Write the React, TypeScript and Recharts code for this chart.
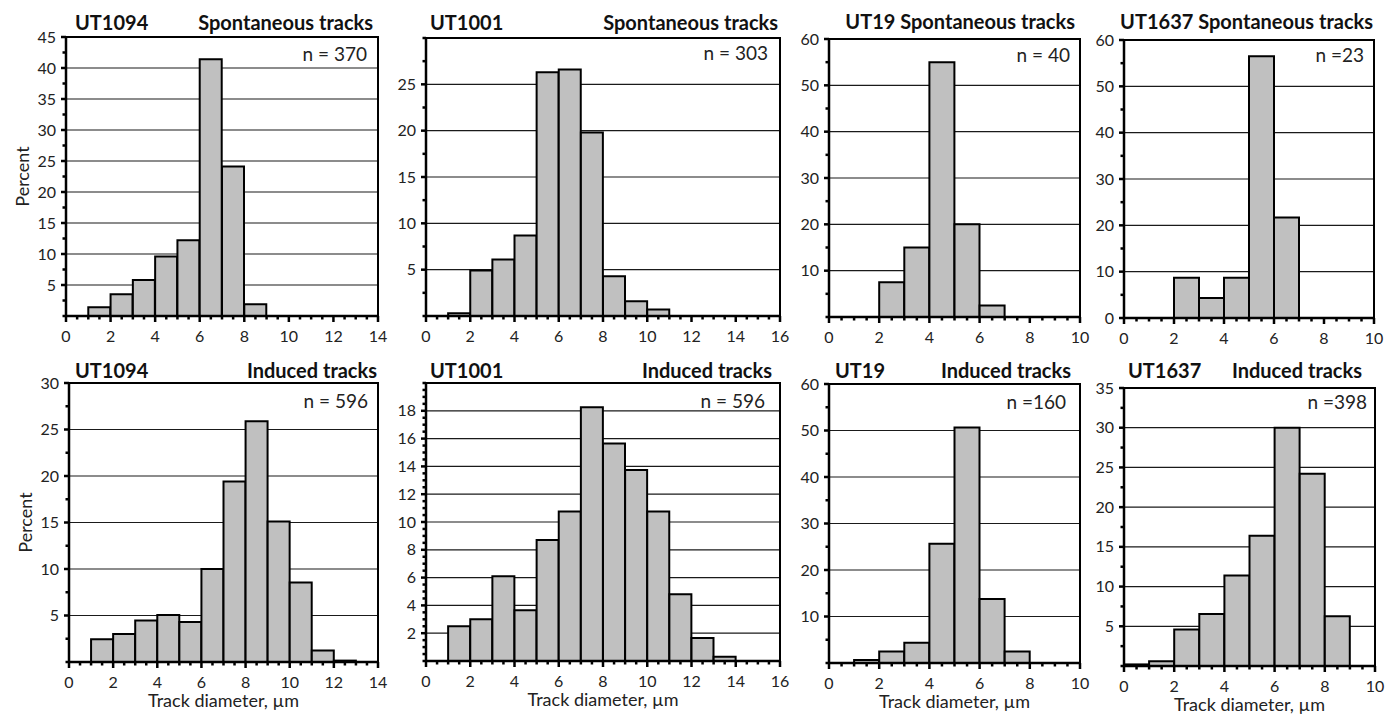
import React from 'react';
import { BarChart, Bar, XAxis, YAxis, CartesianGrid, ReferenceArea } from 'recharts';

const FONT = 'Lato, "Open Sans", "DejaVu Sans", sans-serif';

// Percent of tracks in 1-µm diameter bins, starting at 0-1 µm
const ut1094Spontaneous = [0, 1.4, 3.5, 5.8, 9.6, 12.2, 41.4, 24.1, 1.9, 0, 0, 0, 0, 0];
const ut1001Spontaneous = [0, 0.3, 4.9, 6.1, 8.7, 26.3, 26.6, 19.8, 4.3, 1.6, 0.7, 0, 0, 0, 0, 0];
const ut19Spontaneous = [0, 0, 7.5, 15, 55, 20, 2.5, 0, 0, 0];
const ut1637Spontaneous = [0, 0, 8.7, 4.3, 8.7, 56.5, 21.7, 0, 0, 0];
const ut1094Induced = [0, 2.45, 3.0, 4.45, 5.05, 4.3, 10.0, 19.4, 25.9, 15.1, 8.55, 1.25, 0.15, 0];
const ut1001Induced = [0, 2.5, 3.0, 6.1, 3.65, 8.7, 10.75, 18.25, 15.65, 13.75, 10.75, 4.8, 1.65, 0.3, 0, 0];
const ut19Induced = [0, 0.625, 2.5, 4.375, 25.625, 50.625, 13.75, 2.5, 0, 0];
const ut1637Induced = [0.2, 0.6, 4.6, 6.55, 11.4, 16.4, 30.0, 24.2, 6.25, 0];

const xLabels14 = [0, 2, 4, 6, 8, 10, 12, 14];
const xLabels16 = [0, 2, 4, 6, 8, 10, 12, 14, 16];
const xLabels10 = [0, 2, 4, 6, 8, 10];

const yLabels45 = [5, 10, 15, 20, 25, 30, 35, 40, 45];
const yLabels25 = [5, 10, 15, 20, 25];
const yLabels60 = [10, 20, 30, 40, 50, 60];
const yLabels60z = [0, 10, 20, 30, 40, 50, 60];
const yLabels30 = [5, 10, 15, 20, 25, 30];
const yLabels18 = [2, 4, 6, 8, 10, 12, 14, 16, 18];
const yLabels35 = [5, 10, 15, 20, 25, 30, 35];

const sampleNames = ['UT1094', 'UT1001', 'UT19', 'UT1637'];
const spontaneousCounts = ['n = 370', 'n = 303', 'n = 40', 'n =23'];
const inducedCounts = ['n = 596', 'n = 596', 'n =160', 'n =398'];
const spontaneousTitle = 'Spontaneous tracks';
const inducedTitle = 'Induced tracks';
const yTitle = 'Percent';
const xTitle = 'Track diameter, µm';

type Box = { l: number; t: number; r: number; b: number };
type PanelCfg = {
  values: number[];
  xMax: number;
  yMax: number;
  xLabels: number[];
  yLabels: number[];
  yMinor: number;
  box: Box;
  titleLeft: string;
  titleRight: string;
  titleLeftX: number;
  titleRightX: number;
  titleY: number;
  n: string;
  nX: number;
  nY: number;
  percent?: boolean;
  xTitle?: boolean;
};

const panels: PanelCfg[] = [
  { values: ut1094Spontaneous, xMax: 14, yMax: 45, xLabels: xLabels14, yLabels: yLabels45, yMinor: 2.5,
    box: { l: 66, t: 37, r: 378, b: 316 }, titleLeft: sampleNames[0], titleRight: spontaneousTitle,
    titleLeftX: 75, titleRightX: 373, titleY: 30, n: spontaneousCounts[0], nX: 367, nY: 60.5, percent: true },
  { values: ut1001Spontaneous, xMax: 16, yMax: 30, xLabels: xLabels16, yLabels: yLabels25, yMinor: 2.5,
    box: { l: 426, t: 38, r: 780, b: 316 }, titleLeft: sampleNames[1], titleRight: spontaneousTitle,
    titleLeftX: 430, titleRightX: 778, titleY: 30, n: spontaneousCounts[1], nX: 768, nY: 60 },
  { values: ut19Spontaneous, xMax: 10, yMax: 60, xLabels: xLabels10, yLabels: yLabels60, yMinor: 5,
    box: { l: 829, t: 39, r: 1080, b: 317 }, titleLeft: '', titleRight: sampleNames[2] + ' ' + spontaneousTitle,
    titleLeftX: 835, titleRightX: 1075, titleY: 29, n: spontaneousCounts[2], nX: 1070, nY: 61.5 },
  { values: ut1637Spontaneous, xMax: 10, yMax: 60, xLabels: xLabels10, yLabels: yLabels60z, yMinor: 5,
    box: { l: 1124, t: 40, r: 1374, b: 318 }, titleLeft: '', titleRight: sampleNames[3] + ' ' + spontaneousTitle,
    titleLeftX: 1124, titleRightX: 1373, titleY: 29, n: spontaneousCounts[3], nX: 1364, nY: 61.5 },
  { values: ut1094Induced, xMax: 14, yMax: 30, xLabels: xLabels14, yLabels: yLabels30, yMinor: 2.5,
    box: { l: 69, t: 383, r: 378, b: 662 }, titleLeft: sampleNames[0], titleRight: inducedTitle,
    titleLeftX: 75, titleRightX: 377, titleY: 378, n: inducedCounts[0], nX: 368, nY: 408, percent: true, xTitle: true },
  { values: ut1001Induced, xMax: 16, yMax: 20, xLabels: xLabels16, yLabels: yLabels18, yMinor: 0.5,
    box: { l: 426, t: 383, r: 780, b: 661 }, titleLeft: sampleNames[1], titleRight: inducedTitle,
    titleLeftX: 430, titleRightX: 772, titleY: 378, n: inducedCounts[1], nX: 765, nY: 408, xTitle: true },
  { values: ut19Induced, xMax: 10, yMax: 60, xLabels: xLabels10, yLabels: yLabels60, yMinor: 5,
    box: { l: 829, t: 384, r: 1080, b: 663 }, titleLeft: sampleNames[2], titleRight: inducedTitle,
    titleLeftX: 835, titleRightX: 1071, titleY: 378, n: inducedCounts[2], nX: 1066, nY: 409, xTitle: true },
  { values: ut1637Induced, xMax: 10, yMax: 35, xLabels: xLabels10, yLabels: yLabels35, yMinor: 2.5,
    box: { l: 1124, t: 388, r: 1375, b: 666 }, titleLeft: sampleNames[3], titleRight: inducedTitle,
    titleLeftX: 1128, titleRightX: 1362, titleY: 378, n: inducedCounts[3], nX: 1367, nY: 409, xTitle: true },
];

const tickRange = (max: number, step: number) =>
  Array.from({ length: Math.round(max / step) + 1 }, (_, i) => +(i * step).toFixed(3));

const isIn = (arr: number[], v: number) => arr.some((a) => Math.abs(a - v) < 1e-6);

const TICK_FONT = 16;

function XTick(props: any) {
  const { x, y, payload, labels } = props;
  const v = payload.value;
  const major = isIn(labels, v);
  return (
    <g>
      <line x1={x} x2={x} y1={y} y2={y + (major ? 6 : 3.5)} stroke="#000" strokeWidth={2.5} />
      {major && (
        <text x={x} y={y + 26} textAnchor="middle" fontSize={TICK_FONT} fontFamily={FONT} fill="#222">
          {v}
        </text>
      )}
    </g>
  );
}

function YTick(props: any) {
  const { x, y, payload, labels } = props;
  const v = payload.value;
  const major = isIn(labels, v);
  return (
    <g>
      <line x1={x} x2={x - (major ? 5 : 3.5)} y1={y} y2={y} stroke="#000" strokeWidth={2.5} />
      {major && (
        <text x={x - 10} y={y + 5.5} textAnchor="end" fontSize={TICK_FONT} fontFamily={FONT} fill="#222">
          {v}
        </text>
      )}
    </g>
  );
}

const YW = 60;
const MR = 12;
const MT = 12;

function Panel({ p }: { p: PanelCfg }) {
  const { l, t, r, b } = p.box;
  const XH = 40;
  const width = YW + (r - l) + MR;
  const height = MT + (b - t) + XH;
  const data = p.values.map((v, i) => ({ mid: i + 0.5, v }));
  const xTicks = tickRange(p.xMax, 0.5);
  const yTicks = tickRange(p.yMax, p.yMinor);
  const grid = p.yLabels.filter((v) => v > 0 && v < p.yMax);
  return (
    <div style={{ position: 'absolute', left: l - YW, top: t - MT, width, height }}>
      <BarChart
        width={width}
        height={height}
        data={data}
        margin={{ top: MT, right: MR, bottom: 0, left: 0 }}
        barCategoryGap={0}
        barGap={0}
      >
        <CartesianGrid vertical={false} horizontalValues={grid} stroke="#1a1a1a" strokeWidth={1.2} />
        <XAxis
          dataKey="mid"
          type="number"
          domain={[0, p.xMax]}
          ticks={xTicks}
          interval={0}
          height={XH}
          tickSize={0}
          tickMargin={0}
          tickLine={false}
          axisLine={{ stroke: '#000', strokeWidth: 2.5 }}
          tick={(tp: any) => <XTick {...tp} labels={p.xLabels} />}
        />
        <YAxis
          type="number"
          domain={[0, p.yMax]}
          ticks={yTicks}
          interval={0}
          width={YW}
          tickSize={0}
          tickMargin={0}
          tickLine={false}
          axisLine={{ stroke: '#000', strokeWidth: 2.5 }}
          tick={(tp: any) => <YTick {...tp} labels={p.yLabels} />}
        />
        <Bar dataKey="v" fill="#c0c0c0" stroke="#000" strokeWidth={2} isAnimationActive={false} />
        <ReferenceArea x1={0} x2={p.xMax} y1={0} y2={p.yMax} fill="none" fillOpacity={0} stroke="#000" strokeWidth={2} />
      </BarChart>
    </div>
  );
}

export default function App() {
  return (
    <div style={{ position: 'absolute', left: 0, top: 0, width: 1385, height: 717, background: '#fff', fontFamily: FONT }}>
      {panels.map((p, i) => (
        <Panel key={i} p={p} />
      ))}
      <svg width={1385} height={717} style={{ position: 'absolute', left: 0, top: 0, pointerEvents: 'none' }}>
        {panels.map((p, i) => (
          <g key={i} fontFamily={FONT} fill="#111">
            {p.titleLeft && (
              <text x={p.titleLeftX} y={p.titleY} fontSize={20} fontWeight="bold" textAnchor="start">
                {p.titleLeft}
              </text>
            )}
            <text x={p.titleRightX} y={p.titleY} fontSize={20} fontWeight="bold" textAnchor="end">
              {p.titleRight}
            </text>
            <text x={p.nX} y={p.nY} fontSize={19} textAnchor="end" fill="#222">
              {p.n}
            </text>
            {p.percent && (
              <text
                transform={`translate(${p.box.l - 37},${(p.box.t + p.box.b) / 2}) rotate(-90)`}
                fontSize={18}
                textAnchor="middle"
                fill="#222"
              >
                {yTitle}
              </text>
            )}
            {p.xTitle && (
              <text x={(p.box.l + p.box.r) / 2} y={p.box.b + 45} fontSize={18} textAnchor="middle" fill="#222">
                {xTitle}
              </text>
            )}
          </g>
        ))}
      </svg>
    </div>
  );
}
